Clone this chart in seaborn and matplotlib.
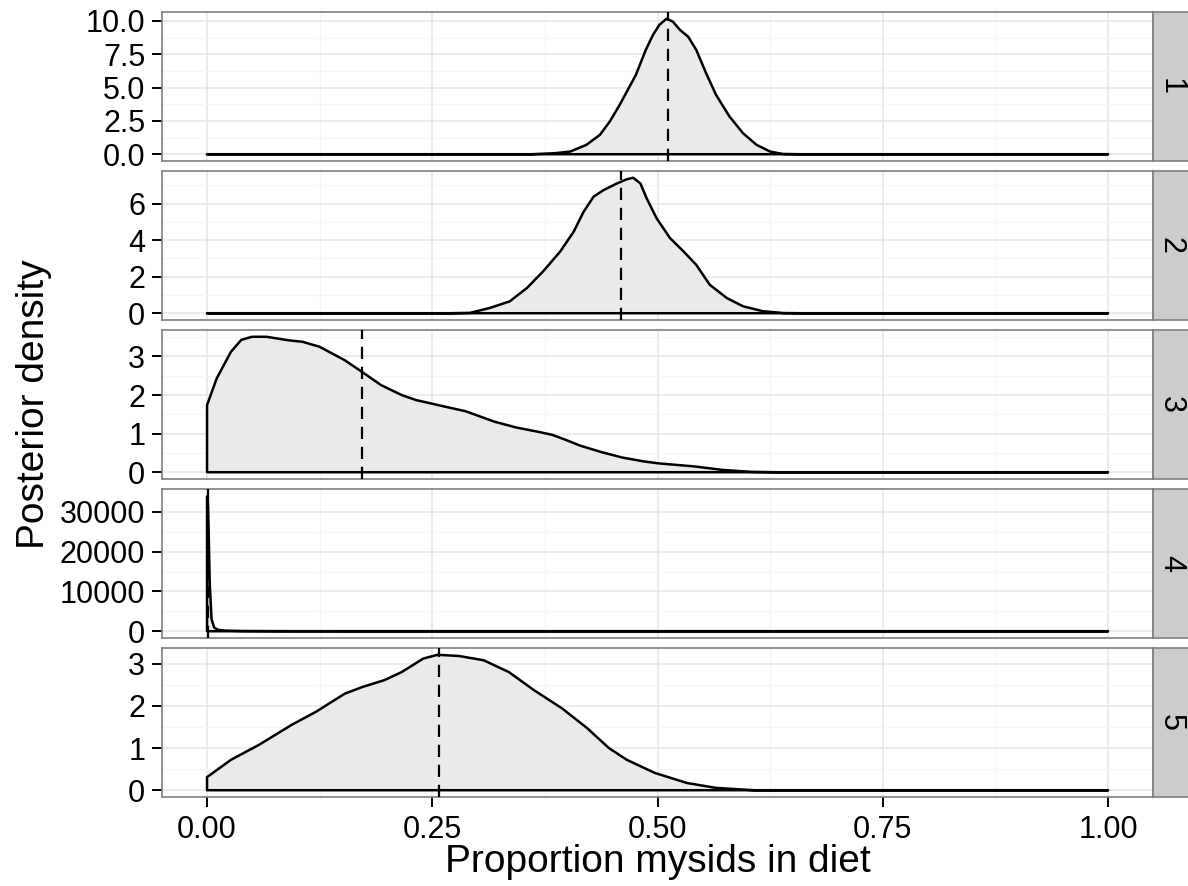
import numpy as np
import matplotlib
matplotlib.use("Agg")
import matplotlib.pyplot as plt
from matplotlib.patches import Rectangle
from matplotlib.ticker import FixedLocator, FormatStrFormatter
import seaborn as sns

# Posterior density curves of the proportion of mysids in the diet, one per group
groups = ["1", "2", "3", "4", "5"]

x_g1 = [0.0, 0.36, 0.385, 0.403, 0.421, 0.436, 0.447, 0.458, 0.469, 0.476, 0.487, 0.495,
        0.502, 0.510, 0.517, 0.525, 0.534, 0.543, 0.554, 0.565, 0.580, 0.595, 0.610,
        0.625, 0.639, 0.66, 1.0]
y_g1 = [0.0, 0.0, 0.07, 0.20, 0.70, 1.45, 2.45, 3.70, 5.08, 5.95, 7.83, 8.95,
        9.70, 10.16, 9.95, 9.32, 8.82, 7.83, 6.07, 4.45, 2.82, 1.57, 0.70,
        0.20, 0.02, 0.0, 0.0]

x_g2 = [0.0, 0.27, 0.292, 0.314, 0.336, 0.355, 0.373, 0.392, 0.407, 0.418, 0.429, 0.440,
        0.455, 0.466, 0.473, 0.481, 0.488, 0.499, 0.514, 0.529, 0.543, 0.558, 0.577,
        0.595, 0.617, 0.640, 0.66, 1.0]
y_g2 = [0.0, 0.0, 0.02, 0.29, 0.65, 1.38, 2.29, 3.38, 4.47, 5.56, 6.38, 6.74,
        7.11, 7.34, 7.42, 7.11, 6.29, 5.20, 4.11, 3.38, 2.65, 1.56, 0.83,
        0.38, 0.11, 0.01, 0.0, 0.0]

x_g3 = [0.0, 0.0107, 0.0265, 0.038, 0.050, 0.066, 0.090, 0.106, 0.125, 0.153, 0.172,
        0.193, 0.216, 0.232, 0.264, 0.287, 0.319, 0.343, 0.367, 0.383, 0.398, 0.414,
        0.438, 0.461, 0.485, 0.501, 0.541, 0.572, 0.604, 0.63, 1.0]
y_g3 = [1.74, 2.43, 3.12, 3.43, 3.51, 3.51, 3.42, 3.38, 3.25, 2.90, 2.60,
        2.26, 2.00, 1.87, 1.70, 1.58, 1.31, 1.16, 1.05, 0.97, 0.84, 0.69,
        0.52, 0.38, 0.28, 0.23, 0.15, 0.06, 0.01, 0.0, 0.0]

x_g4 = [0.0, 0.0008, 0.0015, 0.003, 0.005, 0.008, 0.012, 0.02, 0.04, 0.08, 0.15, 1.0]
y_g4 = [33800, 34045, 28000, 12000, 3000, 900, 350, 150, 60, 20, 5, 0]

x_g5 = [0.0, 0.0265, 0.058, 0.094, 0.121, 0.153, 0.173, 0.197, 0.216, 0.240, 0.256,
        0.280, 0.307, 0.335, 0.363, 0.394, 0.422, 0.446, 0.466, 0.497, 0.533, 0.565,
        0.607, 0.63, 1.0]
y_g5 = [0.31, 0.72, 1.08, 1.55, 1.86, 2.29, 2.45, 2.61, 2.80, 3.12, 3.21,
        3.18, 3.08, 2.80, 2.37, 1.94, 1.47, 1.00, 0.72, 0.41, 0.17, 0.055,
        0.0, 0.0, 0.0]

# posterior means (dashed reference lines)
means = [0.5116, 0.4595, 0.172, 0.0015, 0.257]

curves_x = [x_g1, x_g2, x_g3, x_g4, x_g5]
curves_y = [y_g1, y_g2, y_g3, y_g4, y_g5]

y_major = [[0, 2.5, 5.0, 7.5, 10.0], [0, 2, 4, 6], [0, 1, 2, 3],
           [0, 10000, 20000, 30000], [0, 1, 2, 3]]
y_minor = [[1.25, 3.75, 6.25, 8.75], [1, 3, 5, 7], [0.5, 1.5, 2.5, 3.5],
           [5000, 15000, 25000], [0.5, 1.5, 2.5]]
y_fmt = ["%.1f", "%d", "%d", "%d", "%d"]
x_major = [0.0, 0.25, 0.50, 0.75, 1.00]
x_minor = [0.125, 0.375, 0.625, 0.875]
x_labels = ["0.00", "0.25", "0.50", "0.75", "1.00"]

sns.set_theme(style="white")
plt.rcParams["font.family"] = ["Liberation Sans", "DejaVu Sans"]

W, H = 1188, 886
fig = plt.figure(figsize=(W / 100, H / 100), dpi=100)

left_px, right_px = 162, 1153
strip_w = 36
panel_tops = [12, 171, 330, 489, 648]
panel_h = 149

border = "#7F7F7F"
fill_col = "#EAEAEA"
tick_fs = 22
title_fs = 28

for i, g in enumerate(groups):
    top = panel_tops[i]
    rect = [left_px / W, (H - top - panel_h) / H, (right_px - left_px) / W, panel_h / H]
    ax = fig.add_axes(rect)
    xs = np.asarray(curves_x[i], dtype=float)
    ys = np.asarray(curves_y[i], dtype=float)

    ax.fill_between(xs, ys, 0, color=fill_col, linewidth=0, zorder=2)
    # closed outline: baseline back to the start, then up the curve
    ox = np.concatenate([[xs[-1], xs[0]], xs])
    oy = np.concatenate([[0.0, 0.0], ys])
    sns.lineplot(x=ox, y=oy, sort=False, estimator=None, color="black",
                 linewidth=1.8, ax=ax, zorder=3,
                 solid_joinstyle="round", solid_capstyle="round")
    ax.axvline(means[i], color="black", linewidth=1.6,
               linestyle=(0, (5.5, 3.5)), zorder=4)

    ymax = ys.max()
    ax.set_xlim(-0.05, 1.05)
    ax.set_ylim(-0.05 * ymax, 1.05 * ymax)

    ax.xaxis.set_major_locator(FixedLocator(x_major))
    ax.xaxis.set_minor_locator(FixedLocator(x_minor))
    ax.yaxis.set_major_locator(FixedLocator(y_major[i]))
    ax.yaxis.set_minor_locator(FixedLocator(y_minor[i]))
    ax.yaxis.set_major_formatter(FormatStrFormatter(y_fmt[i]))

    ax.set_axisbelow(True)
    ax.grid(which="major", color="#E5E5E5", linewidth=1.1)
    ax.grid(which="minor", color="#F5F5F5", linewidth=0.8)
    for sp in ax.spines.values():
        sp.set_color(border)
        sp.set_linewidth(1.2)
        sp.set_visible(True)

    ax.tick_params(axis="y", which="major", length=7, width=1.4, color="black",
                   labelsize=tick_fs, pad=5, labelcolor="black", left=True)
    ax.tick_params(which="minor", length=0)
    if i == len(groups) - 1:
        ax.set_xticklabels(x_labels)
        ax.tick_params(axis="x", which="major", length=7, width=1.4, color="black",
                       labelsize=tick_fs, pad=6, labelcolor="black", bottom=True)
    else:
        ax.tick_params(axis="x", which="major", length=0, labelbottom=False)
    ax.set_xlabel("")
    ax.set_ylabel("")

    # facet strip on the right
    sx = right_px / W
    sy = (H - top - panel_h) / H
    fig.patches.append(Rectangle((sx, sy), strip_w / W, panel_h / H,
                                 transform=fig.transFigure, facecolor="#CCCCCC",
                                 edgecolor=border, linewidth=1.2, zorder=0))
    fig.text((right_px + strip_w / 2) / W, (H - top - panel_h / 2) / H, g,
             rotation=-90, ha="center", va="center", fontsize=tick_fs, color="black")

fig.text(34 / W, (H - (12 + 797) / 2) / H, "Posterior density", rotation=90,
         ha="center", va="center", fontsize=title_fs, color="black")
fig.text((left_px + right_px) / 2 / W, 14 / H, "Proportion mysids in diet",
         ha="center", va="baseline", fontsize=title_fs, color="black")

fig.savefig("out.png", dpi=100, facecolor="white")
